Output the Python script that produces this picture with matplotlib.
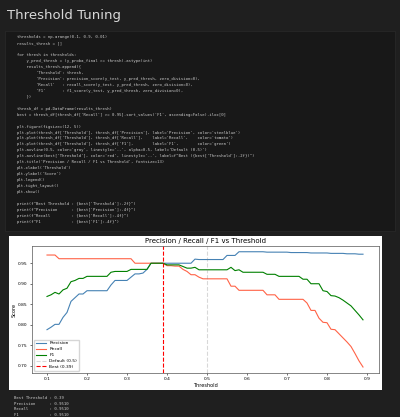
import matplotlib
matplotlib.use("Agg")
import matplotlib.pyplot as plt
from matplotlib.patches import Rectangle
import numpy as np

thresholds = [round(0.10 + 0.01 * i, 2) for i in range(80)]
precision = [.788, .794, .801, .801, .818, .830, .857, .866, .875, .875,
             .883, .883, .883, .883, .883, .883, .897, .908, .908, .908,
             .908, .916, .924, .924, .926, .935, .950, .950, .950, .950,
             .950, .950, .950, .950, .950, .950, .950, .960, .959, .959,
             .959, .959, .959, .959, .959, .969, .969, .969,
             .978, .978, .978, .978, .978, .978, .978, .977, .977, .977,
             .977, .977, .977, .976, .976, .976, .976, .976, .975, .975,
             .975, .975, .975, .974, .974, .974, .974, .973, .973, .973,
             .972, .972]
recall = [.970] * 3 + [.961] * 19 + [.950] * 8 + \
         [.944, .944, .943, .943, .935, .930, .922, .922, .916] + [.912] * 7 + \
         [.894, .894] + [.884] * 7 + [.873] * 3 + [.862] * 7 + \
         [.853, .835, .835, .816, .806, .805, .789, .788, .778, .768, .758, .747, .730, .712, .697]
f1 = [.869, .873, .879, .875, .885, .889, .905, .908, .913, .913,
      .918, .918, .918, .918, .918, .918, .928, .930, .930, .930,
      .930, .935, .935, .935, .935, .935, .950, .950, .950, .950,
      .946, .946, .946, .946, .942, .938, .938, .940, .934] + [.934] * 7 + \
     [.940, .932, .934] + [.928] * 6 + [.923] * 3 + [.918] * 6 + \
     [.911, .911, .900, .900, .900, .883, .881, .871, .870, .866, .860, .853, .846, .835, .824, .812]
best_thr = 0.39
default_thr = 0.5

code_lines = [
    "thresholds = np.arange(0.1, 0.9, 0.01)",
    "results_thresh = []",
    "",
    "for thresh in thresholds:",
    "    y_pred_thresh = (y_proba_final >= thresh).astype(int)",
    "    results_thresh.append({",
    "        'Threshold': thresh,",
    "        'Precision': precision_score(y_test, y_pred_thresh, zero_division=0),",
    "        'Recall'   : recall_score(y_test, y_pred_thresh, zero_division=0),",
    "        'F1'       : f1_score(y_test, y_pred_thresh, zero_division=0),",
    "    })",
    "",
    "thresh_df = pd.DataFrame(results_thresh)",
    "best = thresh_df[thresh_df['Recall'] >= 0.95].sort_values('F1', ascending=False).iloc[0]",
    "",
    "plt.figure(figsize=(12, 5))",
    "plt.plot(thresh_df['Threshold'], thresh_df['Precision'], label='Precision', color='steelblue')",
    "plt.plot(thresh_df['Threshold'], thresh_df['Recall'],    label='Recall',    color='tomato')",
    "plt.plot(thresh_df['Threshold'], thresh_df['F1'],        label='F1',        color='green')",
    "plt.axvline(0.5, color='gray', linestyle='--', alpha=0.5, label='Default (0.5)')",
    "plt.axvline(best['Threshold'], color='red', linestyle='--', label=f\"Best ({best['Threshold']:.2f})\")",
    "plt.title('Precision / Recall / F1 vs Threshold', fontsize=13)",
    "plt.xlabel('Threshold')",
    "plt.ylabel('Score')",
    "plt.legend()",
    "plt.tight_layout()",
    "plt.show()",
    "",
    "print(f\"Best Threshold : {best['Threshold']:.2f}\")",
    "print(f\"Precision      : {best['Precision']:.4f}\")",
    "print(f\"Recall         : {best['Recall']:.4f}\")",
    "print(f\"F1             : {best['F1']:.4f}\")",
]
output_lines = ["Best Threshold : 0.39", "Precision      : 0.9510",
                "Recall         : 0.9510", "F1             : 0.9510"]

W, H = 400, 417
fig = plt.figure(figsize=(W / 100, H / 100), dpi=100)
fig.patch.set_facecolor("#1f1f1f")

def fx(px): return px / W
def fy(py): return 1 - py / H

fig.text(fx(7), fy(15), "Threshold Tuning", color="#d8d8d8", fontsize=9.5,
         va="center", ha="left")
fig.add_artist(Rectangle((fx(5), fy(231)), fx(395) - fx(5), fy(31) - fy(231),
                         transform=fig.transFigure, facecolor="#181818",
                         edgecolor="#2a2a2a", lw=0.5, zorder=-2))
for i, line in enumerate(code_lines):
    if line:
        fig.text(fx(17), fy(37 + i * 5.97), line, color="#cfcfcf", fontsize=2.75,
                 family="DejaVu Sans Mono", va="center", ha="left")

fig.add_artist(Rectangle((fx(9), fy(390)), fx(382) - fx(9), fy(236) - fy(390),
                         transform=fig.transFigure, facecolor="white",
                         edgecolor="none", zorder=-1))

ax = fig.add_axes([fx(32), fy(373), fx(379) - fx(32), fy(246) - fy(373)])
ax.set_zorder(1)
ax.set_facecolor("white")
ax.plot(thresholds, precision, color="steelblue", lw=0.8, label="Precision")
ax.plot(thresholds, recall, color="tomato", lw=0.8, label="Recall")
ax.plot(thresholds, f1, color="green", lw=0.8, label="F1")
ax.axvline(default_thr, color="gray", linestyle="--", alpha=0.3, lw=0.8, label="Default (0.5)")
ax.axvline(best_thr, color="red", linestyle="--", lw=0.8, label=f"Best ({best_thr:.2f})")
ax.set_xlim(0.0625, 0.93)
ax.set_ylim(0.6824, 0.992)
ax.set_xticks([0.1, 0.2, 0.3, 0.4, 0.5, 0.6, 0.7, 0.8, 0.9])
ax.set_yticks([0.70, 0.75, 0.80, 0.85, 0.90, 0.95])
ax.tick_params(labelsize=3.2, length=1.5, width=0.4, pad=1.5)
for s in ax.spines.values():
    s.set_linewidth(0.5)
    s.set_color("#555555")
ax.set_title("Precision / Recall / F1 vs Threshold", fontsize=5, pad=2)
ax.set_xlabel("Threshold", fontsize=3.6, labelpad=1)
ax.set_ylabel("Score", fontsize=3.6, labelpad=1)
ax.legend(loc="lower left", fontsize=3.2, handlelength=2.2, borderpad=0.4,
          labelspacing=0.4, framealpha=0.8)

for i, line in enumerate(output_lines):
    fig.text(fx(14), fy(398 + i * 5.6), line, color="#cfcfcf", fontsize=2.8,
             family="DejaVu Sans Mono", va="center", ha="left")

fig.savefig("out.png", dpi=100, facecolor=fig.get_facecolor())
